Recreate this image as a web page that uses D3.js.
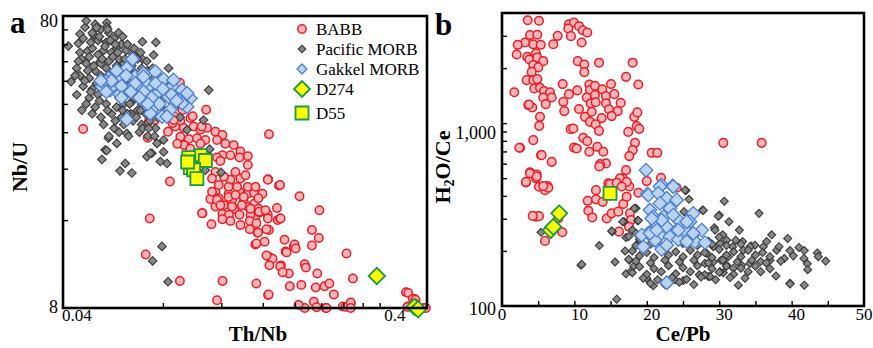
<!DOCTYPE html>
<html><head><meta charset="utf-8">
<script src="https://cdn.jsdelivr.net/npm/d3@7"></script>
<style>body{margin:0;background:#fff}svg{display:block}text{font-family:"Liberation Serif","Times New Roman",serif;fill:#000}</style>
</head><body><svg id="c" width="873" height="348"></svg>
<script>
// ---------- Panel a : Th/Nb vs Nb/U ----------
const babbA=[[0.046,32.8],[0.090,46.4],[0.108,38.2],[0.167,31.5],[0.072,30.6],[0.084,21.7],[0.073,16.2],[0.071,12.2],[0.090,9.9],[0.121,9.9],[0.1165,8.5],[0.153,9.7],[0.166,8.86],[0.166,22.1],[0.179,21.0],[0.2065,19.3],[0.237,17.3],[0.225,14.8],[0.236,13.9],[0.225,13.1],[0.286,12.3],[0.299,10.1],[0.432,9.06],[0.458,8.6],[0.49,8.0],[0.437,8.1],[0.2945,8.3],[0.279,8.1],[0.2475,8.0],[0.228,8.4],[0.214,8.0],[0.205,8.2],[0.193,9.5],[0.209,9.6],[0.231,9.4],[0.2455,9.5],[0.254,9.7],[0.262,8.9],[0.214,11.3],[0.1916,10.5],[0.1815,11.2],[0.1874,12.5],[0.1985,13.0],[0.186,13.7],[0.1668,12.0],[0.1712,11.8],[0.1675,11.2],[0.162,13.5],[0.152,13.2],[0.167,14.8],[0.1543,14.5],[0.1774,16.0],[0.163,17.2],[0.152,16.2],[0.1462,14.9],[0.1887,12.4],[0.1995,13.2],[0.201,12.8],[0.1531,13.3],[0.1641,12.1],[0.1804,11.1],[0.1836,10.6],[0.2335,10.5],[0.2158,11.0],[0.1666,8.9],[0.2324,8.05],[0.249,8.0],[0.2844,8.07],[0.2945,8.35],[0.2945,8.0],[0.439,9.0],[0.453,8.6],[0.4617,8.54],[0.458,8.3],[0.437,8.07],[0.4962,8.0],
[0.1152,20.0],[0.1262,19.7],[0.1362,20.0],[0.1442,19.7],[0.1507,19.8],[0.1596,19.7],[0.1112,18.9],[0.1179,19.0],[0.1293,18.8],[0.1402,18.5],[0.1507,18.2],[0.1152,17.8],[0.1222,18.0],[0.1312,17.5],[0.1442,17.8],[0.1552,17.5],[0.1765,17.6],[0.1053,16.9],[0.1209,16.8],[0.1265,16.7],[0.1362,16.7],[0.1469,16.7],[0.1565,17.0],[0.1657,16.7],[0.1804,16.2],[0.1121,15.5],[0.1209,16.1],[0.1278,15.9],[0.137,15.4],[0.1462,15.9],[0.1531,15.6],[0.1548,14.5],[0.1641,14.9],
[0.0863,36.3],[0.0903,34.9],[0.0968,35.8],[0.0872,33.5],[0.0925,33.1],[0.099,33.5],[0.1038,32.6],[0.1087,33.1],[0.1152,32.1],[0.1209,31.3],[0.0829,32.1],[0.0903,30.9],[0.0957,30.3],[0.1013,30.5],[0.1074,30.1],[0.1165,30.1],[0.1234,29.2],[0.1308,28.9],[0.137,27.5],[0.1442,26.5],[0.1362,26.2],[0.1278,26.7],[0.1209,26.7],[0.1165,26.2],[0.1192,25.5],[0.1442,24.7],[0.1324,23.4],[0.137,22.2],[0.1419,22.8],[0.1278,22.0],[0.1222,22.5],[0.1152,23.4],[0.1125,22.2],[0.1179,21.1],[0.1262,20.8],[0.1339,20.8],[0.1442,20.8],[0.1521,20.8],[0.1657,22.0],[0.1804,21.1],[0.1262,19.2],[0.1324,19.5],[0.1402,19.2],[0.1552,19.0],[0.1165,18.8],[0.1125,20.0],[0.1192,18.0],[0.1293,17.8],[0.1383,18.0],[0.1469,17.5],[0.156,17.1],[0.163,17.3],[0.1657,16.2],[0.181,16.2],[0.0925,28.9],[0.0884,29.2],[0.0968,28.1],[0.1038,29.2],[0.0855,34.4],[0.0806,36.3],[0.105,16.9],
[0.0863,35.2],[0.0916,38.1],[0.0984,36.3],[0.1047,33.5],[0.0758,35.2],[0.0725,34.8],[0.090,47.3]];

const pacificA=[[0.0542,75.8],[0.0542,73.4],[0.0466,73.2],[0.0588,70.1],[0.045,69.4],[0.0494,68.9],[0.0694,65.3],[0.0762,65.0],[0.0415,63.1],[0.0445,64.5],[0.0474,60.7],[0.0423,47.7],[0.0456,38.1],[0.0548,30.5],[0.0581,29.3],[0.0536,27.8],[0.075,58.8],[0.0694,56.9],[0.0832,53.0],[0.110,44.6],[0.106,35.2],[0.0524,25.8],[0.0542,27.7],[0.0594,23.6],[0.0616,25.0],[0.0645,23.2],[0.0623,31.7],[0.0716,26.4],[0.0741,27.1],[0.0768,29.3],[0.0786,25.4],[0.0823,25.0],[0.0804,27.4],[0.0795,13.0],[0.0745,11.6],[0.0829,9.84],[0.1198,23.3],[0.1107,28.0],[0.0902,36.0],[0.0517,55.8],[0.0574,52.3],[0.0946,32.6],[0.0804,30.1],[0.0733,27.1],[0.1074,23.7],
[0.047,77],[0.050,75],[0.052,72],[0.055,70],[0.049,70],[0.046,67],[0.051,66],[0.054,65],[0.057,67],[0.060,64],[0.058,62],[0.053,61],[0.049,62],[0.045,60],[0.048,58],[0.051,59],[0.056,60],[0.062,61],[0.065,59],[0.059,57],[0.055,56],[0.052,55],[0.047,55],[0.044,53],[0.050,52],[0.054,53],[0.058,54],[0.061,55],[0.064,56],[0.067,57],
[0.045,50],[0.048,49],[0.052,50],[0.056,51],[0.060,50],[0.063,52],[0.066,51],[0.069,53],[0.072,52],[0.046,46],[0.049,45],[0.053,47],[0.057,46],[0.061,47],[0.064,48],[0.068,47],[0.071,48],[0.075,49],[0.044,43],[0.048,42],[0.051,43],[0.055,44],[0.059,42],[0.062,43],[0.066,44],[0.070,43],[0.074,45],[0.078,46],[0.047,40],[0.050,39],[0.054,40],[0.058,39],[0.061,40],[0.065,41],[0.069,40],[0.073,41],[0.077,42],[0.081,43],
[0.049,37],[0.052,36],[0.056,37],[0.060,36],[0.064,37],[0.067,38],[0.071,37],[0.075,38],[0.079,39],[0.053,34],[0.057,33],[0.061,34],[0.065,35],[0.069,34],[0.073,35],[0.077,36],[0.055,31],[0.059,32],[0.063,31],[0.068,32],[0.072,31],[0.076,33],
[0.0455,57],[0.0475,52],[0.0505,47],[0.0525,57],[0.0535,63],[0.0565,58],[0.0595,52],[0.0625,46],[0.0655,42],[0.0685,38],[0.0485,65],[0.0515,68],[0.0555,66],[0.0585,60],[0.0615,57],[0.0645,54],[0.0675,50],[0.0705,46],[0.0735,44],[0.0765,44],[0.0795,41],[0.0485,44],[0.0515,41],[0.0545,38],[0.0575,35],[0.0605,38],[0.0635,40],[0.0665,36],[0.0695,33],[0.0725,33],[0.0755,31],[0.0465,48],[0.0445,56],[0.0435,50],[0.0495,54],[0.0535,49],[0.0565,45],[0.0595,44],[0.0625,37],[0.0545,72],[0.0505,73],[0.0575,64],[0.0605,68],[0.0625,64],[0.0655,62],[0.0685,60],[0.0715,56],[0.0745,53],[0.0775,50],[0.0805,48],[0.0835,46],[0.0865,44],[0.0885,40]];

const gakkelA=[[0.0648,56.9],[0.0623,53],[0.0548,49],[0.0581,47.7],[0.066,49.6],[0.0699,50.9],[0.0759,51.6],[0.0804,48.6],[0.0852,45.8],[0.0914,44.6],[0.0968,41.8],[0.0946,39.1],[0.0893,41.3],[0.0832,42.3],[0.0776,44],[0.0724,45.8],[0.0676,46.4],[0.063,44.6],[0.0588,43.5],[0.0555,44.6],[0.0524,45.8],[0.0691,41.8],[0.0741,38.1],[0.0795,36.2],[0.0842,38.1],[0.0623,35.4],[0.0602,49],[0.0708,47.7],[0.0542,47.7],[0.0568,46.4],[0.0861,48.3],[0.0946,43.5],[0.0914,40.2],[0.0733,37.1],[0.0823,36.2],[0.0691,41.3],[0.0699,49.6],
[0.058,52],[0.062,50],[0.066,47],[0.070,44],[0.074,42],[0.078,40],[0.056,48],[0.060,46],[0.064,44],[0.068,42],[0.072,40],[0.076,47],[0.080,45],[0.085,43],[0.088,41],[0.052,48],[0.054,44],[0.060,42]];

const d274A=[[0.353,10.3],[0.458,8.07],[0.470,7.92]];
const d55A=[[0.1038,26.6],[0.1074,25.6],[0.0957,26.2],[0.0968,24.2],[0.099,23.8],[0.1013,22.2],[0.095,25.3]];

// ---------- Panel b : Ce/Pb vs H2O/Ce ----------
const babbB=[[3.55,3653],[5.11,3630],[9.25,3475],[9.94,3550],[10.64,3388],[9.16,3290],[11.15,3221],[11.78,3131],[9.53,2988],[11.0,2759],[7.69,3000],[7.09,2701],[3.87,3030],[4.88,3040],[3.18,2760],[4.32,2695],[5.35,2680],[2.17,2680],[2.03,2373],[3.49,2302],[4.70,2405],[3.77,2228],[4.88,2280],[5.70,2181],[4.32,2074],[5.01,2016],[4.10,1906],[3.41,1718],[4.32,1718],[4.88,1740],[4.46,1547],[5.25,1560],[5.80,1496],[6.63,1475],[1.70,1475],[6.86,1381],[5.70,1381],[6.04,1270],[3.63,1255],[4.18,1218],[5.25,1082],[5.15,966],[4.32,807],[2.49,733],[5.39,668],[6.86,614],[3.87,538],[4.79,524],[3.31,474],[4.70,499],[5.11,449],[6.31,453],[10.46,2181],[11.37,2090],[11.37,1900],[13.40,2140],[18.05,2140],[17.13,1790],[18.83,1627],[8.38,1635],[9.25,1440],[10.40,1510],[8.47,1307],[8.60,1163],[10.64,1195],[12.06,1627],[12.15,1514],[12.84,1599],[11.70,1381],[12.84,1422],[12.25,1281],[12.94,1300],[11.46,1082],[12.39,1153],[13.85,1530],[14.36,1404],[14.36,1285],[14.78,1190],[15.06,1635],[15.51,1440],[16.39,1290],[15.98,1163],[15.15,1092],[13.77,1065],[12.15,1016],[12.94,984],[13.40,907],[9.49,927],[11.23,831],[11.78,797],[9.94,735],[12.06,697],[13.16,742],[13.99,697],[14.36,602],[13.54,598],[13.44,580],[17.44,895],[18.37,780],[18.05,712],[17.58,660],[18.60,963],[18.96,930],[18.27,1082],[18.69,1144],[20.68,688],[21.45,688],[17.13,553],[19.99,482],[21.96,502],[14.68,468],[15.37,463],[16.67,499],[17.22,468],[17.58,450],
[5.94,430],[4.70,308],[5.11,310],[5.94,227],[8.33,253],[7.78,301],[11.84,376],[11.92,332],[12.47,305],[12.98,383],[14.46,301],[15.15,321],[16.06,328],[16.75,361],[17.68,321],[17.82,295],[17.54,271],[16.16,255],[13.91,371],[12.98,430],[14.92,464],[16.30,499],[17.22,477],[18.83,416],[24.13,443],[30.57,780],[35.87,780],[10.32,727],[9.85,935],[2.39,733],[3.73,1265],[5.48,668],[4.24,311],[3.31,477],[3.87,532],[4.79,510],[6.40,443],[5.70,453],[15.84,472],[16.53,450],[17.22,396],[14.92,413]];

const pacificB=[[25.41,428],[25.83,383],[30.70,374],[27.72,335],[30.01,314],[31.35,289],[32.78,260],[33.24,225],[34.39,213],[29.32,268],[25.14,328],[18.51,342],[18.74,293],[16.85,289],[15.23,255],[13.44,214],[10.91,167],[15.61,174],[17.58,178],[15.84,109],[17.13,150],[20.90,129],[22.75,130],[23.89,139],[25.04,138],[27.25,148],[28.49,145],[32.64,130],[33.56,142],[30.57,152],[19.99,142],[35.50,321],[37.25,245],[39.46,234],[41.02,209],[41.75,201],[43.55,195],[44.71,176],[43.69,186],[41.71,182],[42.17,170],[39.78,201],[40.23,188],[38.99,182],[37.94,202],[38.26,211],[36.56,225],[36.09,211],[34.94,215],[34.25,211],[33.33,202],[32.28,229],[31.86,211],[37.02,178],[35.73,175],[34.25,171],[33.11,167],[31.95,161],[35.73,154],[37.84,146],[39.78,133],[41.75,130],[30.25,178],[30.11,154],[28.73,145],[29.42,260],[30.48,245],[31.04,229],[30.11,220],[29.19,211],[28.27,194],[28.04,171],[29.19,174],[31.26,186],[31.04,167],[5.39,253],[11.01,169],[15.15,257],[16.67,289],[17.13,237],[18.27,342],[18.83,293],[25.28,430],[27.80,333],[29.87,310],[42.22,158],[39.78,132],[22.75,138],
[18,260],[17.5,240],[18.5,250],[19,225],[17,200],[17.5,180],[18.2,165],[17.8,155],
[19,232],[21.5,228],[24,236],[26.5,230],[28.5,226],[30,238],[18.5,214],[20.5,218],[23,212],[25,220],[27,214],[29,218],[31,214],[33,218],[18,200],[20,196],[22,204],[24,198],[26,202],[28,196],[30,204],[32,198],[34,202],[36,196],[19,188],[21,184],[23,190],[25,186],[27,190],[29,184],[31,190],[33,186],[35,190],[37,186],[18.5,176],[20.5,172],[22.5,178],[24.5,174],[26.5,178],[28.5,172],[30.5,178],[32.5,174],[34.5,178],[36.5,172],[38.5,176],[19,164],[21,160],[23,166],[25,162],[27,166],[29,160],[31,165],[33,161],[35,165],[37,160],[18,152],[20,149],[22,154],[24,150],[26,154],[28,148],[30,153],[32,149],[34,154],[19.5,142],[21.5,139],[23.5,143],[25.5,140],[27.5,144],[29.5,139],[31.5,143],[20.5,133],[22.5,131],[24.5,135],[26.5,131]];

const gakkelB=[[19.9,553],[22.06,458],[23.58,453],[21.82,450],[23.66,450],[20.07,409],[20.21,404],[21.59,413],[22.75,388],[24.13,380],[20.44,335],[21.82,364],[23.20,342],[20.90,308],[22.28,308],[23.66,314],[24.59,289],[26.42,321],[25.97,289],[27.58,260],[21.37,277],[22.75,271],[24.13,260],[25.51,255],[20.21,250],[21.82,244],[23.20,239],[24.35,231],[26.20,241],[26.66,225],[28.04,222],[19.52,211],[21.13,229],[22.06,204],[22.75,215],[22.75,134],[19.30,244],[22.06,295],[20.68,301],[25.51,289],[24.35,260],[20.44,250],[21.37,260],[25.51,225],[26.42,250]];

const d274B=[[7.91,321],[6.73,260],[7.09,271]];
const d55B=[[14.92,413]];

// ticks / labels
const xTicksA=[0.08,0.12,0.16,0.2,0.24,0.28,0.32,0.36];
const yTicksA=[16,24,32,40,48,56,64,72];
const xLabelsA=[0.04,0.4];
const yLabelsA=[8,80];
const xTicksB=[5,10,15,20,25,30,35,40,45];
const yTicksB=[200,300,400,500,600,700,800,900,1000,2000,3000];
const xLabelsB=[0,10,20,30,40,50];
const yLabelsB=[100,1000];
const legendItems=[["BABB","babb"],["Pacific MORB","pac"],["Gakkel MORB","gak"],["D274","d274"],["D55","d55"]];

// ---------- drawing ----------
const svg=d3.select("#c");
const A={x:d3.scaleLog().domain([0.04,0.5]).range([63,427]),y:d3.scaleLog().domain([8,80]).range([308,16])};
const B={x:d3.scaleLinear().domain([0,50]).range([502,864]),y:d3.scaleLog().domain([100,4000]).range([306,13])};

const sty={
 babb:{shape:"circle",fill:"#f6b6b9",stroke:"#ee1c25",sw:1.5},
 pac:{shape:"diamond",fill:"#888888",stroke:"#383838",sw:1.1},
 gak:{shape:"diamond",fill:"#b9d3f0",stroke:"#4c7fd1",sw:1.3},
 d274:{shape:"diamond",fill:"#ffff00",stroke:"#1b9a4b",sw:1.8},
 d55:{shape:"square",fill:"#ffff00",stroke:"#1b9a4b",sw:1.8}
};
const shapePath=(shape,h)=>shape==="diamond"?`M0,${-h}L${h},0L0,${h}L${-h},0Z`:`M${-h},${-h}H${h}V${h}H${-h}Z`;

function drawPts(g,data,sc,key,size){
  const s=sty[key];
  const sel=g.append("g").selectAll(null).data(data).enter();
  let m;
  if(s.shape==="circle") m=sel.append("circle").attr("cx",d=>sc.x(d[0])).attr("cy",d=>sc.y(d[1])).attr("r",size);
  else m=sel.append("path").attr("d",shapePath(s.shape,size)).attr("transform",d=>`translate(${sc.x(d[0])},${sc.y(d[1])})`);
  m.attr("fill",s.fill).attr("stroke",s.stroke).attr("stroke-width",s.sw);
}

function frameAndTicks(sc,xt,yt){
  const [x0,x1]=sc.x.range(),[y0,y1]=sc.y.range();
  svg.append("g").attr("transform",`translate(0,${y0})`)
    .call(d3.axisBottom(sc.x).tickValues(xt).tickSize(-5).tickFormat(""))
    .call(g=>{g.select(".domain").remove();g.selectAll("line").attr("stroke","#000").attr("stroke-width",1.4);});
  svg.append("g").attr("transform",`translate(${x0},0)`)
    .call(d3.axisLeft(sc.y).tickValues(yt).tickSize(-5).tickFormat(""))
    .call(g=>{g.select(".domain").remove();g.selectAll("line").attr("stroke","#000").attr("stroke-width",1.4);});
  svg.append("rect").attr("x",x0).attr("y",y1).attr("width",x1-x0).attr("height",y0-y1)
    .attr("fill","none").attr("stroke","#000").attr("stroke-width",2.6);
}

// panel a
const gA=svg.append("g");
drawPts(gA,babbA,A,"babb",4.2);
drawPts(gA,pacificA,A,"pac",4.3);
drawPts(gA,gakkelA,A,"gak",6.8);
drawPts(gA,d274A,A,"d274",8.2);
drawPts(gA,d55A,A,"d55",6.5);
frameAndTicks(A,xTicksA,yTicksA);

// panel b
const gB=svg.append("g");
drawPts(gB,babbB,B,"babb",4.3);
drawPts(gB,pacificB,B,"pac",4.0);
drawPts(gB,gakkelB,B,"gak",6.8);
drawPts(gB,d274B,B,"d274",8.0);
drawPts(gB,d55B,B,"d55",6.5);
frameAndTicks(B,xTicksB,yTicksB);

// tick labels panel a
svg.selectAll(null).data(xLabelsA).enter().append("text")
  .attr("x",(d,i)=>A.x(d)+(i===0?-1:0)).attr("y",321).attr("text-anchor",(d,i)=>i===0?"start":"middle")
  .attr("font-size",17).text(d=>d);
svg.selectAll(null).data(yLabelsA).enter().append("text")
  .attr("x",58).attr("y",(d,i)=>A.y(d)+(i===0?5:11)).attr("text-anchor","end")
  .attr("font-size",18).text(d=>d);
// tick labels panel b
svg.selectAll(null).data(xLabelsB).enter().append("text")
  .attr("x",d=>B.x(d)+(d>0&&d<50?5:0)).attr("y",320).attr("text-anchor","middle")
  .attr("font-size",17).text(d=>d);
svg.selectAll(null).data(yLabelsB).enter().append("text")
  .attr("x",496).attr("y",(d,i)=>B.y(d)+(i===0?9:16)).attr("text-anchor","end")
  .attr("font-size",18).text(d=>d3.format(",")(d));

// axis titles
svg.append("text").attr("x",258).attr("y",341).attr("text-anchor","middle").attr("font-size",21).attr("font-weight","bold").text("Th/Nb");
svg.append("text").attr("x",683).attr("y",341).attr("text-anchor","middle").attr("font-size",21).attr("font-weight","bold").text("Ce/Pb");
svg.append("text").attr("transform","translate(27,167) rotate(-90)").attr("text-anchor","middle").attr("font-size",22).attr("font-weight","bold").text("Nb/U");
const t2=svg.append("text").attr("transform","translate(450,167) rotate(-90)").attr("text-anchor","middle").attr("font-size",22).attr("font-weight","bold");
t2.append("tspan").text("H");
t2.append("tspan").attr("font-size",14).attr("dy",4).text("2");
t2.append("tspan").attr("dy",-4).text("O/Ce");

// panel letters
svg.append("text").attr("x",10).attr("y",33).attr("font-size",31).attr("font-weight","bold").text("a");
svg.append("text").attr("x",435).attr("y",35).attr("font-size",31).attr("font-weight","bold").text("b");

// legend
const legY=[29,49,69,89,113];
const legSize={babb:4.2,pac:3.8,gak:5,d274:8,d55:6.5};
const lg=svg.append("g");
legendItems.forEach(([label,key],i)=>{
  const s=sty[key],cx=302,cy=legY[i];
  let m;
  if(s.shape==="circle") m=lg.append("circle").attr("cx",cx).attr("cy",cy).attr("r",legSize[key]);
  else m=lg.append("path").attr("d",shapePath(s.shape,legSize[key])).attr("transform",`translate(${cx},${cy})`);
  m.attr("fill",s.fill).attr("stroke",s.stroke).attr("stroke-width",s.sw);
  lg.append("text").attr("x",316).attr("y",cy+6).attr("font-size",17).text(label);
});
</script></body></html>
